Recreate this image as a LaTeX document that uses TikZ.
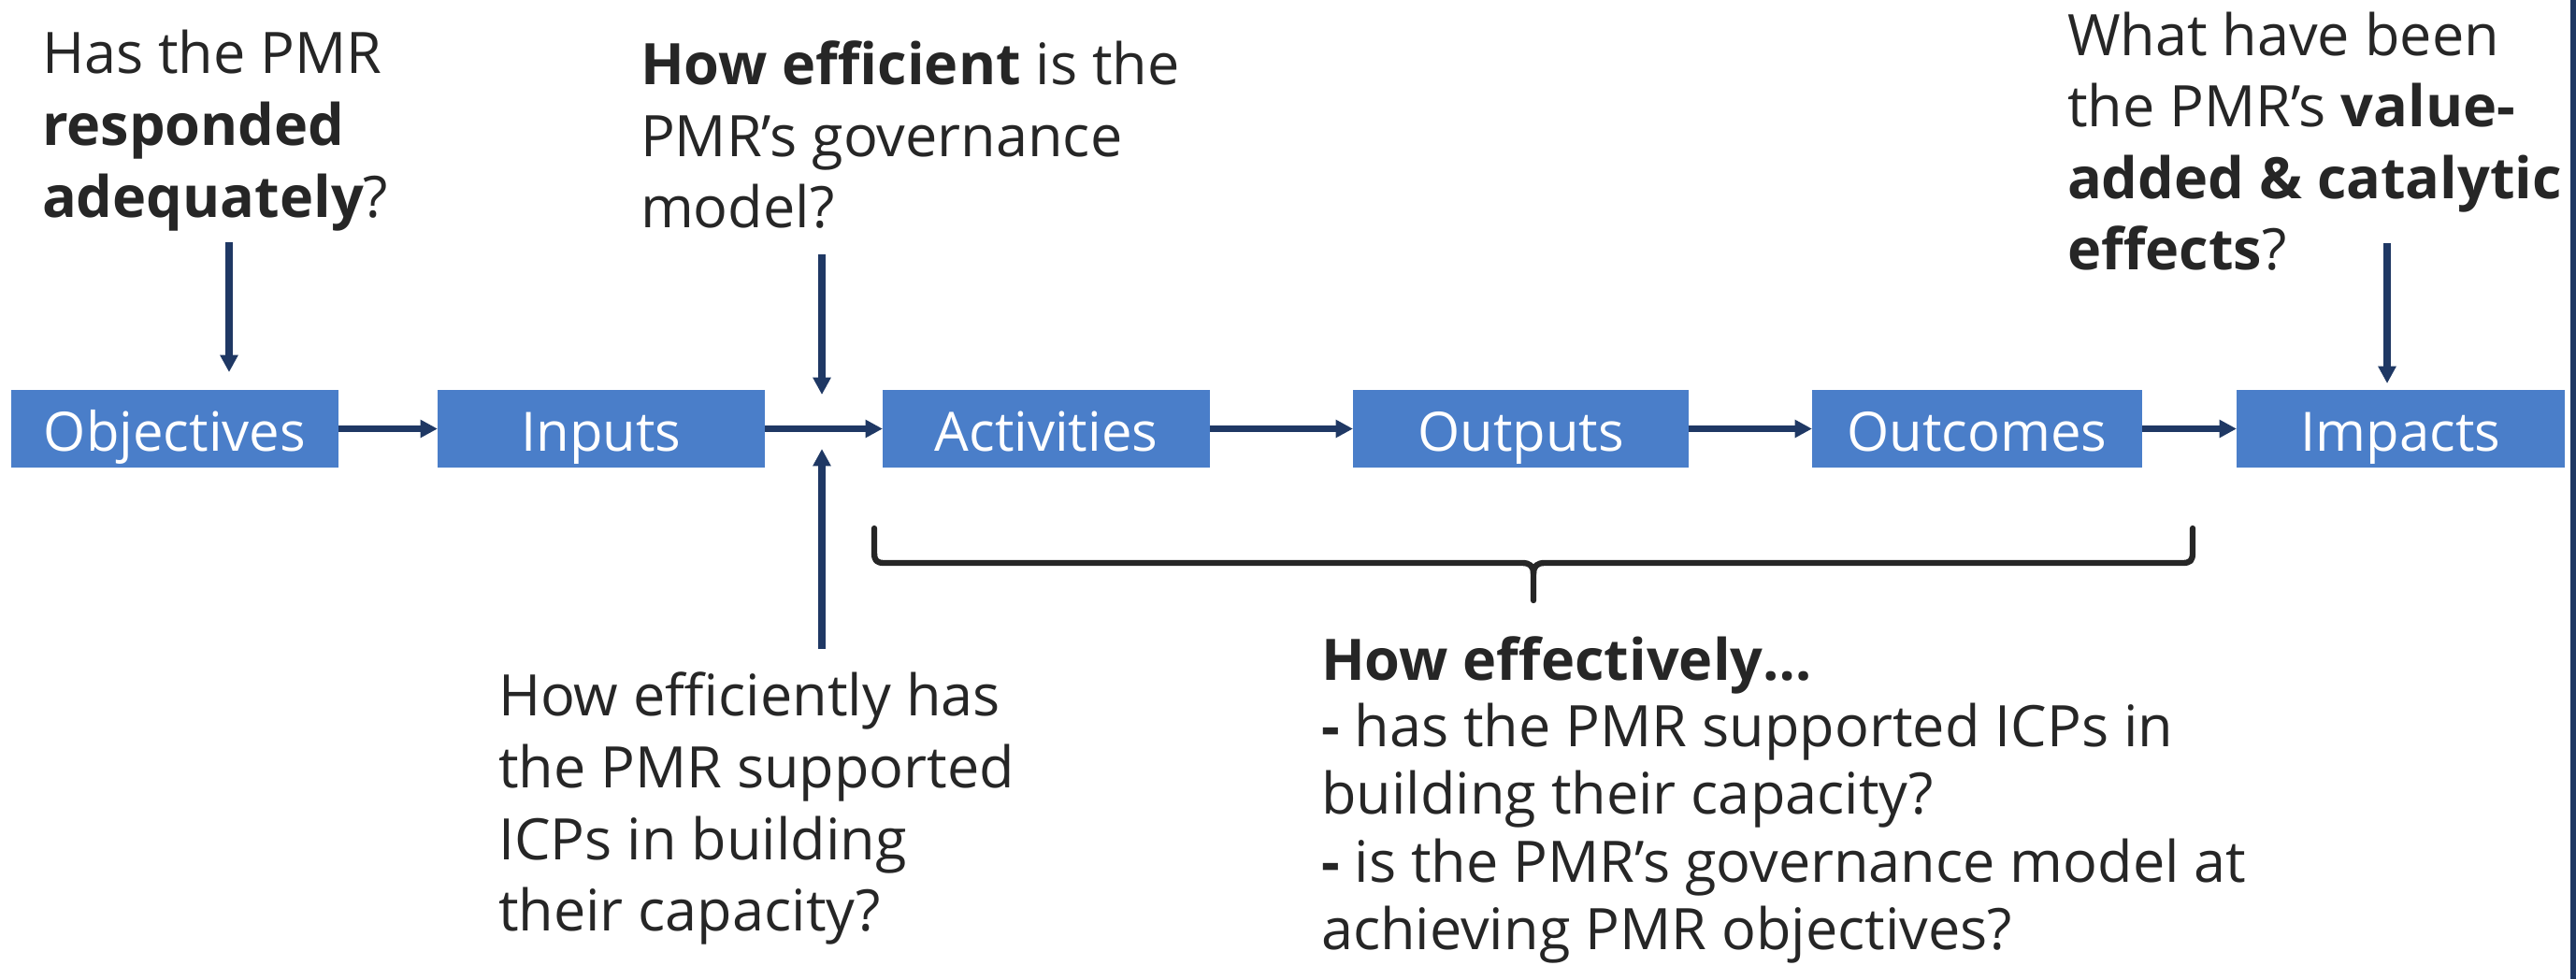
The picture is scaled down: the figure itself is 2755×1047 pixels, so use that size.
\documentclass[tikz,border=0pt]{standalone}
\usepackage{fontspec}
\setmainfont{Open Sans}
\usetikzlibrary{arrows.meta}
\definecolor{boxblue}{HTML}{4A7EC9}
\definecolor{navy}{HTML}{1F3864}
\definecolor{txt}{HTML}{262626}
\begin{document}
\begin{tikzpicture}[x=0.01cm,y=-0.01cm,
  every node/.style={inner sep=0pt, outer sep=0pt},
  stagebox/.style={fill=boxblue, text=white, minimum height=0.83cm,
    text height=13.4pt, text depth=0pt, font=\fontsize{16.5pt}{20pt}\selectfont},
  qline/.style={anchor=base west, text=txt, font=\fontsize{17.4pt}{20pt}\selectfont},
  arr/.style={draw=navy, line width=2pt, -{Triangle[length=5.2pt,width=5.2pt]}},
  varr/.style={arr, line width=2.4pt},
  bracepath/.style={draw=txt, line width=1.8pt, line cap=round, line join=round}]
\useasboundingbox (0,0) rectangle (2755,1047);
\fill[navy] (2749,0) rectangle (2755,1047);

% stage boxes
\node[stagebox, minimum width=3.50cm] (obj)  at (187,458.5)  {Objectives};
\node[stagebox, minimum width=3.50cm] (inp)  at (643,458.5)  {Inputs};
\node[stagebox, minimum width=3.50cm] (act)  at (1119,458.5) {Activities};
\node[stagebox, minimum width=3.59cm] (outp) at (1626.5,458.5) {Outputs};
\node[stagebox, minimum width=3.53cm] (outc) at (2114.5,458.5) {Outcomes};
\node[stagebox, minimum width=3.51cm] (imp)  at (2567.5,458.5) {Impacts};

% chain arrows
\draw[arr] (obj) -- (inp);
\draw[arr] (inp) -- (act);
\draw[arr] (act) -- (outp);
\draw[arr] (outp) -- (outc);
\draw[arr] (outc) -- (imp);

% question arrows
\coordinate (qa) at (245,259);  \coordinate (qat) at (245,398);
\coordinate (qb) at (879,272);  \coordinate (qbt) at (879,422);
\coordinate (qd) at (879,694);  \coordinate (qdt) at (879,480);
\coordinate (qc) at (2553,260); \coordinate (qct) at (2553,410);
\draw[varr] (qa) -- (qat);
\draw[varr] (qb) -- (qbt);
\draw[varr] (qd) -- (qdt);
\draw[varr] (qc) -- (qct);

% brace
\draw[bracepath] (935,565) -- (935,590) .. controls (935,600) and (937,602) .. (947,602)
  -- (1628,602) .. controls (1636,602) and (1640,605) .. (1640,614) -- (1640,642);
\draw[bracepath] (1640,614) .. controls (1640,605) and (1644,602) .. (1652,602)
  -- (2333,602) .. controls (2343,602) and (2345,600) .. (2345,590) -- (2345,565);

% question A
\node[qline] (a1) at (45,78)  {Has the PMR};
\node[qline] (a2) at (45,155) {\textbf{responded}};
\node[qline] (a3) at (45,232) {\textbf{adequately}?};
% question B
\node[qline] (b1) at (685,90)  {\textbf{How efficient} is the};
\node[qline] (b2) at (685,167) {PMR’s governance};
\node[qline] (b3) at (685,243) {model?};
% question C
\node[qline] (c1) at (2211,59)  {What have been};
\node[qline] (c2) at (2211,135) {the PMR’s \textbf{value-}};
\node[qline] (c3) at (2211,212) {\textbf{added \& catalytic}};
\node[qline] (c4) at (2211,288) {\textbf{effects}?};
% question D
\node[qline] (d1) at (533,765) {How efficiently has};
\node[qline] (d2) at (533,842) {the PMR supported};
\node[qline] (d3) at (533,919) {ICPs in building};
\node[qline] (d4) at (533,995) {their capacity?};
% question E
\node[qline] (e1) at (1413,727)  {\textbf{How effectively…}};
\node[qline] (e2) at (1413,798)  {\textbf{-} has the PMR supported ICPs in};
\node[qline] (e3) at (1413,870)  {building their capacity?};
\node[qline] (e4) at (1413,943)  {\textbf{-} is the PMR’s governance model at};
\node[qline] (e5) at (1413,1015) {achieving PMR objectives?};
\end{tikzpicture}
\end{document}
